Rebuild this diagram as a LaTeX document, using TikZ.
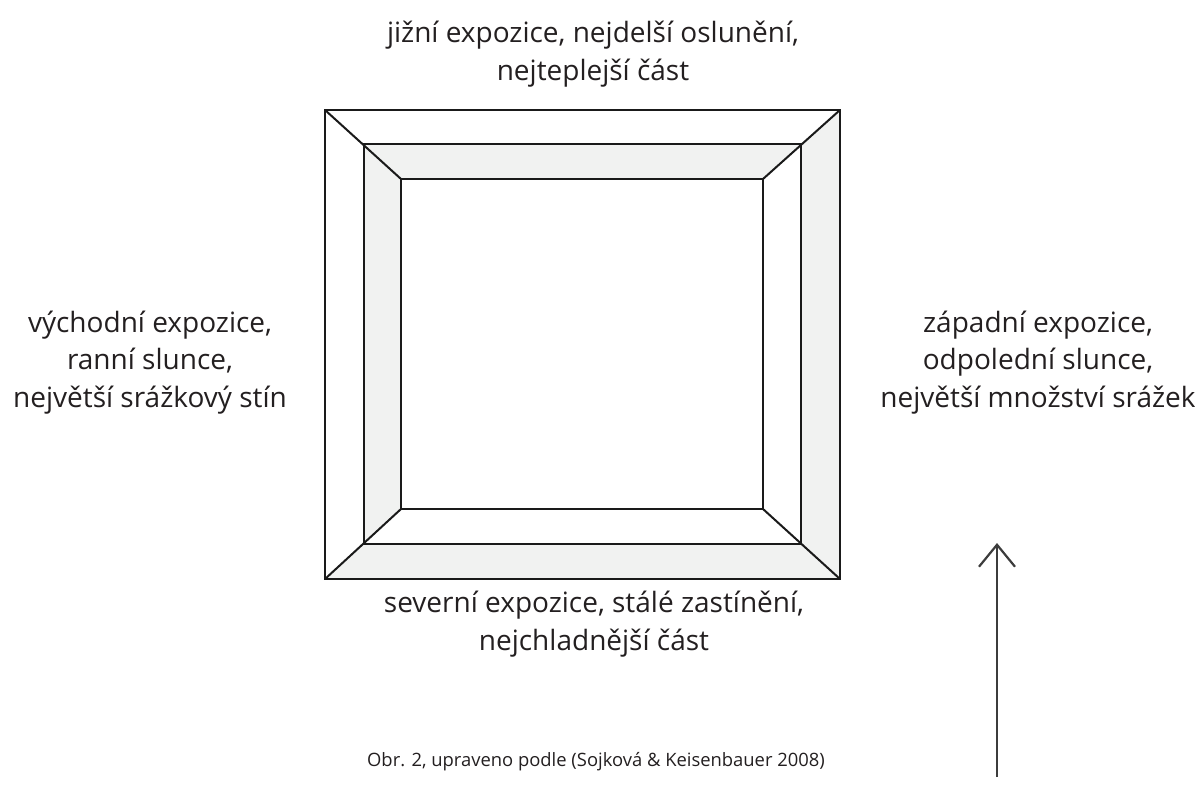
\documentclass[tikz,border=0pt]{standalone}
\usepackage{fontspec}
\setmainfont{Open Sans}
\usetikzlibrary{arrows.meta}
\definecolor{slopetext}{HTML}{231F20}
\definecolor{slopegray}{HTML}{F1F2F1}
\definecolor{slopeline}{HTML}{1A1A1A}
\tikzset{
  frame/.style={draw=slopeline, line width=2pt, line join=miter},
  band/.style={fill=slopegray},
  aspect/.style={align=center, text=slopetext, inner sep=0pt,
                 font=\fontsize{28}{37.5}\selectfont},
  caption/.style={text=slopetext, inner sep=0pt, font=\fontsize{18.4}{20}\selectfont},
  northarrow/.style={draw=slopeline!85, line width=2.2pt,
                     -{Straight Barb[length=22pt,width=36pt]}}
}
\begin{document}
\begin{tikzpicture}[x=1pt,y=-1pt]
  \useasboundingbox (0,0) rectangle (1195,785);

  % corners of the three frames
  \coordinate (outernw) at (325,110);
  \coordinate (outerne) at (840,110);
  \coordinate (outerse) at (840,579);
  \coordinate (outersw) at (325,579);
  \coordinate (middlenw) at (364,144);
  \coordinate (middlene) at (801,144);
  \coordinate (middlese) at (801,544);
  \coordinate (middlesw) at (364,544);
  \coordinate (innernw) at (401,179);
  \coordinate (innerne) at (763,179);
  \coordinate (innerse) at (763,509);
  \coordinate (innersw) at (401,509);

  % shaded bands
  \fill[band] (middlenw) -- (middlene) -- (innerne) -- (innernw)
              -- (innersw) -- (middlesw) -- cycle;
  \fill[band] (outerne) -- (outerse) -- (outersw) -- (middlesw)
              -- (middlese) -- (middlene) -- cycle;

  \draw[frame] (outernw) rectangle (outerse);
  \draw[frame] (middlenw) rectangle (middlese);
  \draw[frame] (innernw) rectangle (innerse);
  \foreach \c in {nw,ne,se,sw}
    \draw[frame] (outer\c) -- (inner\c);

  % slope labels (base = last line)
  \node[aspect, anchor=base] (southtext) at (593,80)
    {jižní expozice, nejdelší oslunění,\\nejteplejší část};
  \node[aspect, anchor=base] (easttext) at (150,407)
    {východní expozice,\\ranní slunce,\\největší srážkový stín};
  \node[aspect, anchor=base] (westtext) at (1038,407)
    {západní expozice,\\odpolední slunce,\\největší množství srážek};
  \node[aspect, anchor=base] (northtext) at (594,650)
    {severní expozice, stálé zastínění,\\nejchladnější část};

  \node[caption, anchor=base] (source) at (596,766)
    {Obr. 2, upraveno podle (Sojková \& Keisenbauer 2008)};

  % north arrow
  \coordinate (arrowfoot) at (997,777);
  \coordinate (arrowtip) at (997,543);
  \draw[northarrow] (arrowfoot) -- (arrowtip);
\end{tikzpicture}
\end{document}
